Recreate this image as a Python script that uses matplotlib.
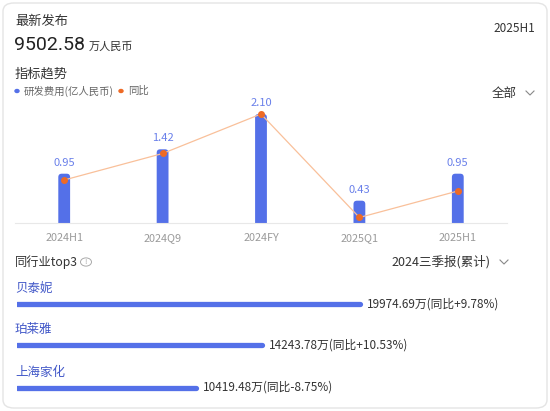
import matplotlib
matplotlib.use("Agg")
import matplotlib.pyplot as plt
from matplotlib.patches import FancyBboxPatch, Circle
from matplotlib.lines import Line2D

plt.rcParams['font.family'] = ['Noto Sans CJK SC', 'DejaVu Sans']

W, H = 550, 411

# Data
periods = ["2024H1", "2024Q9", "2024FY", "2025Q1", "2025H1"]
rd_cost = [0.95, 1.42, 2.10, 0.43, 0.95]   # 亿人民币
yoy = [8.6, 13.9, 21.8, 1.1, 6.4]            # 同比 (secondary scale)

peers = ["贝泰妮", "珀莱雅", "上海家化"]
peer_values = [19974.69, 14243.78, 10419.48]
peer_yoy = ["+9.78%", "+10.53%", "-8.75%"]

BLUE = "#5470e8"
LABEL_BLUE = "#6a80ea"
ORANGE = "#ee6a25"
LINE_ORANGE = "#f9c09a"
GRAY = "#9a9a9a"
DARK = "#333333"


def fx(x):
    return x / W


def fy(y):
    return 1 - y / H


fig = plt.figure(figsize=(W / 100, H / 100), dpi=100)
fig.patch.set_facecolor("white")

# Card
card = FancyBboxPatch((fx(3), fy(408)), fx(544), 405 / H,
                      boxstyle="round,pad=0,rounding_size=0.02",
                      transform=fig.transFigure, facecolor="white",
                      edgecolor="#e4e4e4", linewidth=1, zorder=-5)
fig.patches.append(card)

# Header texts
fig.text(fx(15), fy(22), "最新发布", fontsize=9.5, color=DARK, va="center")
fig.text(fx(14), fy(45), "9502.58", fontsize=14, color="#222222", va="center",
         family=['Roboto', 'DejaVu Sans'])
fig.text(fx(89), fy(47), "万人民币", fontsize=8, color=DARK, va="center")
fig.text(fx(535), fy(28), "2025H1", fontsize=8.5, color=DARK, va="center", ha="right")
fig.text(fx(15), fy(74), "指标趋势", fontsize=9.5, color=DARK, va="center")

# Legend
fig.patches.append(Circle((fx(17), fy(91)), 2 / W, transform=fig.transFigure, color=BLUE))
fig.text(fx(24), fy(91), "研发费用(亿人民币)", fontsize=7.5, color="#666666", va="center")
fig.patches.append(Circle((fx(121), fy(91)), 2 / W, transform=fig.transFigure, color=ORANGE))
fig.text(fx(128), fy(91), "同比", fontsize=7.5, color="#666666", va="center")

fig.text(fx(517), fy(93), "全部", fontsize=9, color=DARK, va="center", ha="right")
fig.lines.append(Line2D([fx(526), fx(530), fx(534)], [fy(91), fy(95), fy(91)],
                        transform=fig.transFigure, color="#888888", lw=0.8))

# Trend chart
ax = fig.add_axes([fx(15), fy(223), fx(492), 118 / H])
x = list(range(len(periods)))
ax.set_xlim(-0.5, len(periods) - 0.5)
ax.set_ylim(0, 118 / 51.9)
bar_w = 0.12
aspect = 98.4 / 51.9
for i, v in enumerate(rd_cost):
    # rounded-top bar, bottom dipped below the axis so only top corners show
    ax.add_patch(FancyBboxPatch((i - bar_w / 2, -0.2), bar_w, v + 0.2,
                                boxstyle="round,pad=0,rounding_size=0.035",
                                mutation_aspect=aspect, facecolor=BLUE,
                                edgecolor="none", zorder=2))
    ax.annotate(f"{v:.2f}", (i, v), xytext=(0, 6), textcoords="offset pixels",
                ha="center", va="bottom", fontsize=8, color=LABEL_BLUE)
ax.set_xticks(x)
ax.set_xticklabels(periods, fontsize=7.8, color=GRAY)
ax.tick_params(axis="x", length=0, pad=7)
ax.set_yticks([])
for s in ["top", "left", "right"]:
    ax.spines[s].set_visible(False)
ax.spines["bottom"].set_color("#e8e8e8")
ax.spines["bottom"].set_zorder(3)
ax.patch.set_alpha(0)

ax2 = ax.twinx()
ax2.plot(x, yoy, color=LINE_ORANGE, lw=0.9, zorder=3)
ax2.scatter(x, yoy, s=16, color=ORANGE, zorder=4)
ax2.set_ylim(0, 118 / 5)
ax2.set_yticks([])
for s in ax2.spines.values():
    s.set_visible(False)

# Peer section
fig.text(fx(15), fy(262), "同行业top3", fontsize=8.8, color=DARK, va="center")
fig.patches.append(Circle((fx(86), fy(262)), 5.5 / W, transform=fig.transFigure,
                          facecolor="none", edgecolor="#aaaaaa", lw=0.7))
fig.text(fx(86), fy(262), "!", fontsize=5.5, color="#aaaaaa", va="center", ha="center")
fig.text(fx(490), fy(262), "2024三季报(累计)", fontsize=9, color=DARK, va="center", ha="right")
fig.lines.append(Line2D([fx(500), fx(504), fx(508)], [fy(260), fy(264), fy(260)],
                        transform=fig.transFigure, color="#888888", lw=0.8))

bx = fig.add_axes([fx(17), 0, fx(520), 1])
bx.set_xlim(0, 520 / (343.0 / peer_values[0]))
bx.set_ylim(H, 0)
bx.axis("off")
name_y = [288, 329.5, 372]
bar_y = [304, 345, 387.5]
for name, val, pct, ny, by in zip(peers, peer_values, peer_yoy, name_y, bar_y):
    bx.text(-2 / 0.0172, ny, name, fontsize=9, color="#4258c8", va="center")
    bx.plot([0, val], [by, by], color=BLUE, lw=3.8, solid_capstyle="round")
    bx.annotate(f"{val:.2f}万(同比{pct})", (val, by), xytext=(7, 0),
                textcoords="offset pixels", va="center", fontsize=8.5, color=DARK)

fig.savefig("out.png", dpi=100)
